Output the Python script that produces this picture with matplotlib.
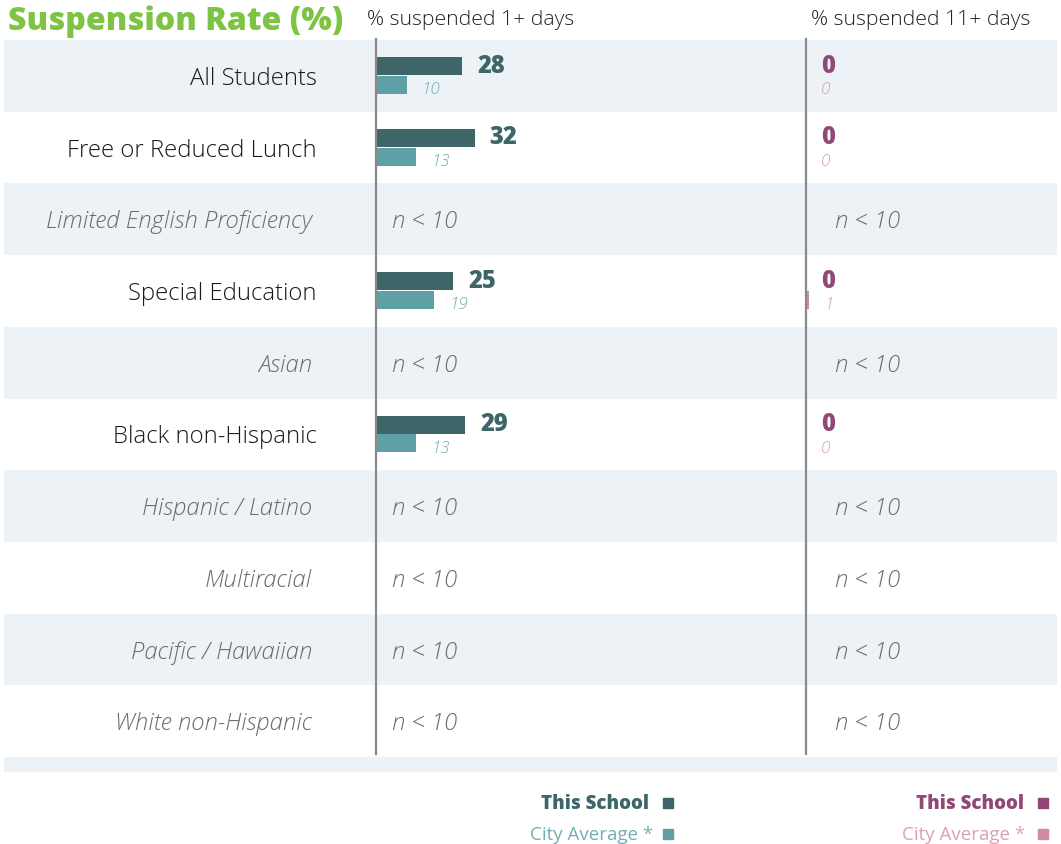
import numpy as np
import matplotlib
matplotlib.use("Agg")
import matplotlib.pyplot as plt
from matplotlib import transforms

plt.rcParams['font.family'] = ['Open Sans', 'DejaVu Sans']

# ---------------- data ----------------
categories = ["All Students", "Free or Reduced Lunch", "Limited English Proficiency",
              "Special Education", "Asian", "Black non-Hispanic", "Hispanic / Latino",
              "Multiracial", "Pacific / Hawaiian", "White non-Hispanic"]
school_1plus = [28, 32, None, 25, None, 29, None, None, None, None]
city_1plus = [10, 13, None, 19, None, 13, None, None, None, None]
school_11plus = [0, 0, None, 0, None, 0, None, None, None, None]
city_11plus = [0, 0, None, 1, None, 0, None, None, None, None]
title = "Suspension Rate (%)"
header_left = "% suspended 1+ days"
header_right = "% suspended 11+ days"
suppressed_label = "n < 10"

# ---------------- style ----------------
W, H = 1061, 845
DARK_TEAL = "#3e6567"
LIGHT_TEAL = "#5f9fa6"
LIGHT_TEAL_TXT = "#72aeb4"
DARK_MAG = "#904877"
LIGHT_PINK = "#d38ba2"
LIGHT_PINK_TXT = "#dba0b3"
STRIPE = "#edf2f6"
GREEN = "#7dc443"
AXIS_GRAY = "#8a8a8a"

fig = plt.figure(figsize=(W / 100, H / 100), dpi=100)
fig.patch.set_facecolor("white")

n = len(categories)
top_px, rows_bottom_px, band_bottom_px = 41, 758, 773
row_h = (rows_bottom_px - top_px) / n
extra = (band_bottom_px - rows_bottom_px) / row_h

# background stripes axes
bg = fig.add_axes([4 / W, (H - band_bottom_px) / H, (1057 - 4) / W,
                   (band_bottom_px - top_px) / H], zorder=0)
bg.set_xlim(0, 1)
bg.set_ylim(n - 0.5 + extra, -0.5)
bg.axis("off")
for i in range(n):
    if i % 2 == 0:
        bg.axhspan(i - 0.5, i + 0.5, color=STRIPE, lw=0)
bg.axhspan(n - 0.5, n - 0.5 + extra, color=STRIPE, lw=0)

px_per_unit = 3.1
left_x0, right_x0 = 375.5, 806
axL = fig.add_axes([left_x0 / W, (H - rows_bottom_px) / H, (right_x0 - left_x0) / W,
                    (rows_bottom_px - top_px) / H], zorder=2)
axR = fig.add_axes([right_x0 / W, (H - rows_bottom_px) / H, (W - right_x0) / W,
                    (rows_bottom_px - top_px) / H], zorder=2)
axL.set_xlim(0, (right_x0 - left_x0) / px_per_unit)
axR.set_xlim(0, (W - right_x0) / px_per_unit)

bar_h = 18 / row_h
off_dark = -9.5 / row_h
off_light = 9.0 / row_h

for ax, school, city, c_dark, c_light, t_light, nx in [
        (axL, school_1plus, city_1plus, DARK_TEAL, LIGHT_TEAL, LIGHT_TEAL_TXT, 12),
        (axR, school_11plus, city_11plus, DARK_MAG, LIGHT_PINK, LIGHT_PINK_TXT, 21)]:
    ax.set_ylim(n - 0.5, -0.5)
    ax.patch.set_alpha(0)
    for s in ["top", "right", "bottom"]:
        ax.spines[s].set_visible(False)
    ax.spines["left"].set_color(AXIS_GRAY)
    ax.spines["left"].set_linewidth(1.6)
    ax.spines["left"].set_bounds(n - 0.5 - 3 / row_h, -0.5 - 1 / row_h)
    ax.set_xticks([])
    ax.set_yticks([])
    for i in range(n):
        if school[i] is None:
            ax.annotate(suppressed_label, (0, i), xytext=(nx, -1.5), textcoords="offset points",
                        ha="left", va="center", fontsize=17.2, style="italic",
                        color="#6b6b6b", fontweight="light")
            continue
        ax.barh(i + off_dark, school[i], height=bar_h, color=c_dark, lw=0)
        ax.barh(i + off_light, city[i], height=bar_h, color=c_light, lw=0)
        ax.annotate(str(school[i]), (school[i], i + off_dark), xytext=(10.8, 0.8),
                    textcoords="offset points", ha="left", va="center",
                    fontsize=17, fontweight=800, color=c_dark)
        ax.annotate(str(city[i]), (city[i], i + off_light), xytext=(10.8, -3.0),
                    textcoords="offset points", ha="left", va="center",
                    fontsize=12.3, style="italic", color=t_light, fontweight="light")

# category labels
trans = transforms.blended_transform_factory(fig.transFigure, axL.transData)
offset = transforms.ScaledTranslation(0, -1.5 / 72, fig.dpi_scale_trans)
for i, cat in enumerate(categories):
    suppressed = school_1plus[i] is None
    fig.text(317 / W if not suppressed else 312 / W, i, cat, transform=trans + offset,
             ha="right", va="center", fontsize=17.2,
             style="italic" if suppressed else "normal",
             color="#6b6b6b" if suppressed else "#1a1a1a", fontweight="light")

# title / headers
fig.text(8 / W, 1 - 21.5 / H, title, ha="left", va="center", fontsize=23.1,
         fontweight=800, color=GREEN)
fig.text(367 / W, 1 - 20.5 / H, header_left, ha="left", va="center", fontsize=15.3,
         color="#222222", fontweight="light")
fig.text(811 / W, 1 - 20.5 / H, header_right, ha="left", va="center", fontsize=15.3,
         color="#222222", fontweight="light")

# legends
legend_items = [
    (649, 668, 804.5, "This School", DARK_TEAL, DARK_TEAL, 800),
    (653, 668, 835.5, "City Average *", LIGHT_TEAL_TXT, LIGHT_TEAL, "normal"),
    (1024, 1043, 804.5, "This School", DARK_MAG, DARK_MAG, 800),
    (1025, 1043, 835.5, "City Average *", LIGHT_PINK_TXT, LIGHT_PINK, "normal"),
]
for tx, mx, y, label, tcol, mcol, wt in legend_items:
    fig.text(tx / W, 1 - y / H, label, ha="right", va="center", fontsize=13.5,
             fontweight=wt, color=tcol)
    fig.add_artist(plt.Line2D([mx / W], [1 - (y - 0.5) / H], marker="s", markersize=7,
                              color=mcol, lw=0, transform=fig.transFigure))

fig.savefig("out.png", dpi=100, facecolor="white")
